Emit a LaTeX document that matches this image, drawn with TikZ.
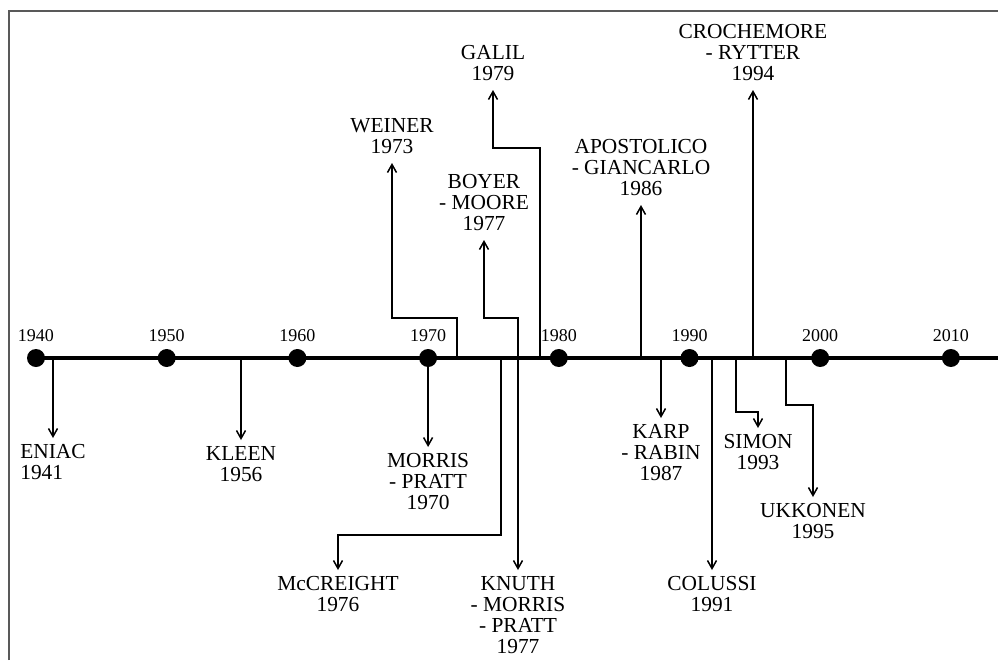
\documentclass[tikz,border=0pt]{standalone}
\usepackage{fontspec}
\setmainfont{Liberation Serif}
\usetikzlibrary{arrows.meta,positioning,calc}

\tikzset{
  yeardot/.style={circle, fill=black, inner sep=0pt, minimum size=9pt},
  yearlbl/.style={font=\fontsize{9}{9}\selectfont},
  evdown/.style={align=center, anchor=north, inner sep=3pt, font=\fontsize{10.7}{10.5}\selectfont},
  evup/.style={align=center, anchor=south, inner xsep=3pt, inner ysep=4.5pt, font=\fontsize{10.7}{10.5}\selectfont},
  link/.style={-{Straight Barb[length=4pt,width=4.5pt]}, line width=0.75pt},
}

\begin{document}
\begin{tikzpicture}[x=0.5pt, y=-0.5pt]
  \useasboundingbox (0,0) rectangle (998,660);

  % Frame
  \draw[black!65, line width=1pt] (8.5,660) -- (8.5,11) -- (998,11);

  % Axis
  \coordinate (axisstart) at (36,358);
  \coordinate (axisend) at (998,358);
  \draw[line width=2pt] (axisstart) -- (axisend);
  \foreach \yr [count=\i from 0] in {1940,1950,...,2010}
    \node[yeardot, label={[yearlbl]above:\yr}] (y\yr) at (36+\i*130.7,358) {};

  % Points on the axis
  \coordinate (t1941) at (53,358);
  \coordinate (t1956) at (241,358);
  \coordinate (t1973) at (457,358);
  \coordinate (t1976) at (501,358);
  \coordinate (t1977) at (518,358);
  \coordinate (t1979) at (540,358);
  \coordinate (t1986) at (641,358);
  \coordinate (t1987) at (661,358);
  \coordinate (t1991) at (712,358);
  \coordinate (t1993) at (736,358);
  \coordinate (t1994) at (753,358);
  \coordinate (t1995) at (786,358);

  % Below the axis
  \node[evdown, align=left] (eniac) at (53,438) {ENIAC\\1941};
  \node[evdown] (kleen) at (241,440) {KLEEN\\1956};
  \node[evdown] (mp) at (y1970 |- 0,447) {MORRIS\\- PRATT\\1970};
  \node[evdown] (mcc) at (338,570) {McCREIGHT\\1976};
  \node[evdown] (kmp) at (518,570) {KNUTH\\- MORRIS\\- PRATT\\1977};
  \node[evdown] (kr) at (661,418) {KARP\\- RABIN\\1987};
  \node[evdown] (col) at (712,570) {COLUSSI\\1991};
  \node[evdown] (simon) at (758,428) {SIMON\\1993};
  \node[evdown] (ukk) at (813,497) {UKKONEN\\1995};

  % Above the axis
  \node[evup] (weiner) at (392,163) {WEINER\\1973};
  \node[evup] (bm) at (484,240) {BOYER\\- MOORE\\1977};
  \node[evup] (galil) at (493,90) {GALIL\\1979};
  \node[evup] (ag) at (641,205) {APOSTOLICO\\- GIANCARLO\\1986};
  \node[evup] (cr) at (753,90) {CROCHEMORE\\- RYTTER\\1994};

  % Arrows
  \draw[link] (t1941) -- (eniac.north);
  \draw[link] (t1956) -- (kleen.north);
  \draw[link] (y1970) -- (mp.north);
  \draw[link] (t1973) -- ++(0,-40) -| (weiner.south);
  \draw[link] (t1976) -- ++(0,177) -| (mcc.north);
  \draw[link] (t1977) -- ++(0,-40) -| (bm.south);
  \draw[link] (t1977) -- (kmp.north);
  \draw[link] (t1979) -- ++(0,-210) -| (galil.south);
  \draw[link] (t1986) -- (ag.south);
  \draw[link] (t1987) -- (kr.north);
  \draw[link] (t1991) -- (col.north);
  \draw[link] (t1993) -- ++(0,54) -| (simon.north);
  \draw[link] (t1994) -- (cr.south);
  \draw[link] (t1995) -- ++(0,47) -| (ukk.north);

\end{tikzpicture}
\end{document}
